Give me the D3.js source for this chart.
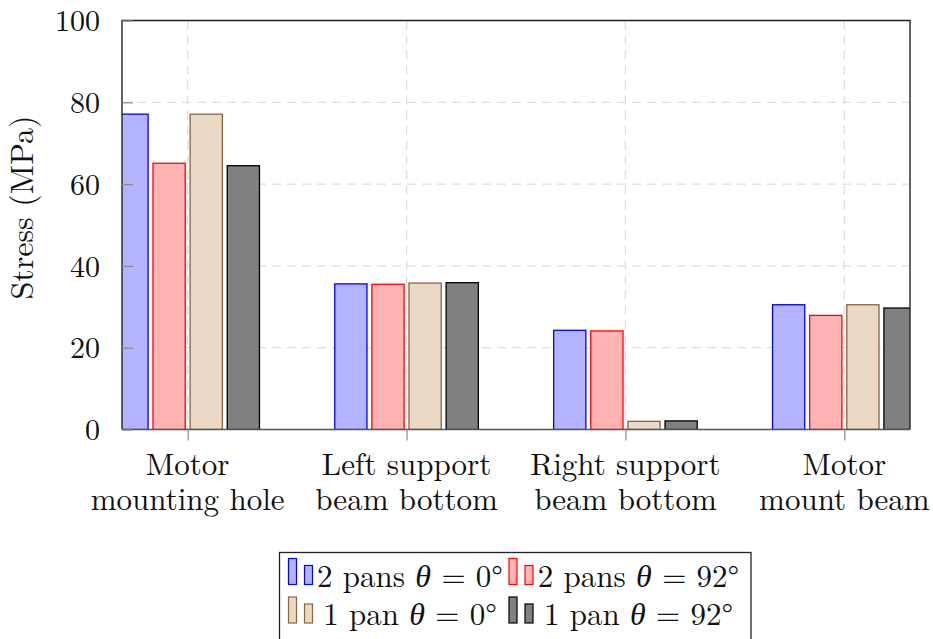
<!DOCTYPE html>
<html>
<head>
<meta charset="utf-8">
<script src="https://cdn.jsdelivr.net/npm/d3@7"></script>
<style>
  html, body { margin: 0; padding: 0; background: #fff; }
  svg { display: block; }
  text { font-family: "Latin Modern Roman", "Liberation Serif", serif; fill: #111; }
  tspan.math { font-family: "Liberation Serif", serif; font-style: italic; }
</style>
</head>
<body>
<svg id="chart" width="933" height="639"></svg>
<script>
// Stress at four locations, for two pan configurations and two angles
const categories = [
  ["Motor", "mounting hole"],
  ["Left support", "beam bottom"],
  ["Right support", "beam bottom"],
  ["Motor", "mount beam"]
];
const twoPans0  = [77.1, 35.6, 24.25, 30.5];
const twoPans92 = [65.1, 35.5, 24.1, 27.9];
const onePan0   = [77.1, 35.8, 2.0, 30.5];
const onePan92  = [64.5, 35.9, 2.1, 29.7];
const yTicks = [0, 20, 40, 60, 80, 100];
const yLabel = "Stress (MPa)";

const series = [
  { key: "2p0",  pre: "2 pans ", ang: "0°",  values: twoPans0,  fill: "#b3b3ff", stroke: "#0000ff" },
  { key: "2p92", pre: "2 pans ", ang: "92°", values: twoPans92, fill: "#ffb3b3", stroke: "#ff0000" },
  { key: "1p0",  pre: "1 pan ",  ang: "0°",  values: onePan0,   fill: "#ead9c5", stroke: "#8a6440" },
  { key: "1p92", pre: "1 pan ",  ang: "92°", values: onePan92,  fill: "#808080", stroke: "#000000" }
];

const svg = d3.select("#chart");
const plot = { left: 122, right: 910, top: 20.5, bottom: 429.5 };
const FS = 31;

const x = d3.scaleLinear().domain([-0.3, 3.3]).range([plot.left, plot.right]);
const y = d3.scaleLinear().domain([0, 100]).range([plot.bottom, plot.top]);
const inner = d3.scaleBand().domain(series.map(s => s.key)).range([-71.8, 71.8]).paddingInner(0.132);

svg.append("defs").append("clipPath").attr("id", "plotClip")
  .append("rect")
  .attr("x", plot.left).attr("y", plot.top)
  .attr("width", plot.right - plot.left).attr("height", plot.bottom - plot.top);

// grid
const grid = svg.append("g").attr("stroke", "#dedede").attr("stroke-width", 1.3)
  .attr("stroke-dasharray", "9,6").attr("fill", "none");
yTicks.filter(t => t > 0 && t < 100).forEach(t => {
  grid.append("line").attr("x1", plot.left).attr("x2", plot.right)
    .attr("y1", y(t)).attr("y2", y(t));
});
categories.forEach((c, i) => {
  grid.append("line").attr("x1", x(i)).attr("x2", x(i))
    .attr("y1", plot.top).attr("y2", plot.bottom);
});

// bars
const bars = svg.append("g").attr("clip-path", "url(#plotClip)");
series.forEach(s => {
  bars.selectAll(null).data(s.values).enter().append("rect")
    .attr("x", (d, i) => x(i) + inner(s.key))
    .attr("width", inner.bandwidth())
    .attr("y", d => y(d))
    .attr("height", d => y(0) - y(d))
    .attr("fill", s.fill)
    .attr("stroke", s.stroke)
    .attr("stroke-width", 1.3);
});

// axis frame
const frame = svg.append("g").attr("fill", "none");
frame.append("path")
  .attr("d", `M${plot.left},${plot.bottom}V${plot.top}H${plot.right}V${plot.bottom}`)
  .attr("stroke", "#222").attr("stroke-width", 1.4);
frame.append("line").attr("x1", plot.left).attr("x2", plot.right)
  .attr("y1", plot.bottom).attr("y2", plot.bottom)
  .attr("stroke", "#555").attr("stroke-width", 1.4);

// y axis (ticks inside)
const yAxis = d3.axisLeft(y).tickValues(yTicks).tickSize(-11).tickPadding(22).tickFormat(d3.format("d"));
const yg = svg.append("g").attr("transform", `translate(${plot.left},0)`).call(yAxis);
yg.attr("font-family", null);
yg.select(".domain").remove();
yg.selectAll(".tick line").attr("stroke", "#888").attr("stroke-width", 1.2);
yg.selectAll(".tick text").attr("font-size", 30).attr("fill", "#111").attr("dy", "0.34em");

// x axis (ticks outside)
const xAxis = d3.axisBottom(x).tickValues(d3.range(categories.length)).tickSize(11).tickFormat("");
const xg = svg.append("g").attr("transform", `translate(0,${plot.bottom})`).call(xAxis);
xg.select(".domain").remove();
xg.selectAll(".tick line").attr("stroke", "#888").attr("stroke-width", 1.2);

// category labels
categories.forEach((lines, i) => {
  const t = svg.append("text").attr("text-anchor", "middle").attr("font-size", FS);
  lines.forEach((ln, k) => {
    t.append("tspan").attr("x", x(i)).attr("y", 475 + k * 35).text(ln);
  });
});

// y label
svg.append("text")
  .attr("transform", `translate(33,${(113 + 302) / 2}) rotate(-90)`)
  .attr("text-anchor", "middle").attr("font-size", 32)
  .text(yLabel);

// legend
const lg = svg.append("g");
lg.append("rect").attr("x", 279.5).attr("y", 552.5).attr("width", 471.5).attr("height", 100)
  .attr("fill", "#fff").attr("stroke", "#222").attr("stroke-width", 1.3);
const colIcon = [288.5, 509];
const colText = [410, 638.5];
const rowBase = [586.5, 625];
series.forEach((s, i) => {
  const col = i % 2, row = Math.floor(i / 2);
  const bx = colIcon[col], base = rowBase[row];
  const icon = lg.append("g").attr("fill", s.fill).attr("stroke", s.stroke).attr("stroke-width", 1.2);
  icon.append("rect").attr("x", bx).attr("y", base - 28).attr("width", 8).attr("height", 26);
  icon.append("rect").attr("x", bx + 16).attr("y", base - 21).attr("width", 8).attr("height", 19);
  const t = lg.append("text").attr("x", colText[col]).attr("y", base)
    .attr("text-anchor", "middle").attr("font-size", FS);
  t.append("tspan").text(s.pre);
  t.append("tspan").attr("class", "math").attr("font-size", 32).text("θ");
  t.append("tspan").text(" = " + s.ang);
});
</script>
</body>
</html>
